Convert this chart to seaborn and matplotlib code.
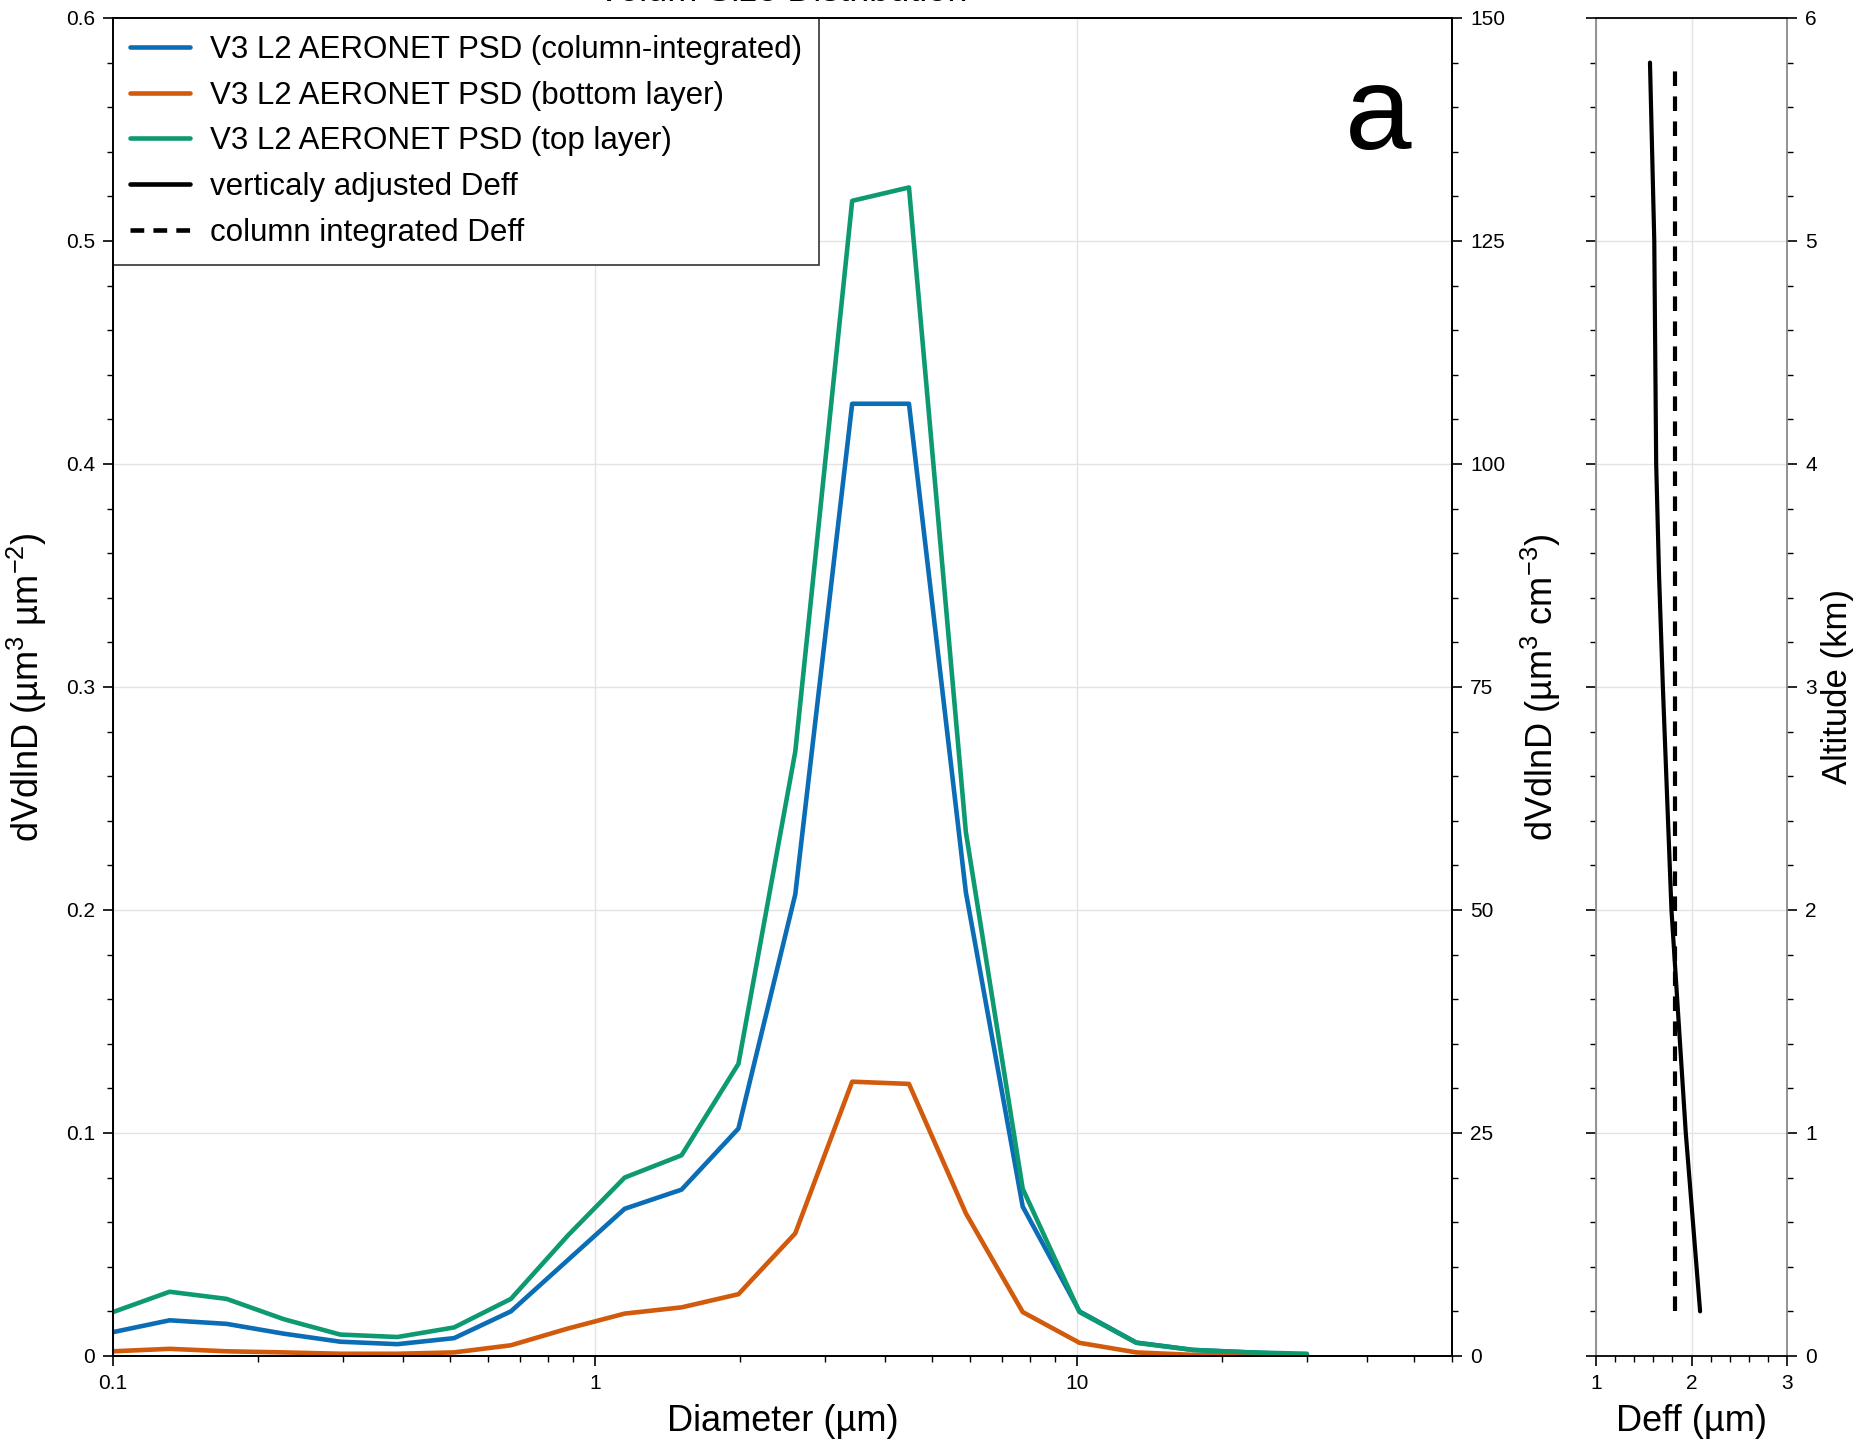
import numpy as np
import pandas as pd
import matplotlib
matplotlib.use("Agg")
import matplotlib.pyplot as plt
from matplotlib.ticker import FixedLocator, MultipleLocator, LogLocator, NullFormatter, FuncFormatter
from matplotlib.lines import Line2D
import seaborn as sns

# ---------------- data ----------------
diameter = [0.1, 0.131, 0.172, 0.226, 0.296, 0.389, 0.510, 0.669, 0.878, 1.152, 1.512,
            1.984, 2.603, 3.416, 4.481, 5.880, 7.715, 10.12, 13.28, 17.43, 22.86, 30.0]
psd_column = [0.0107, 0.016, 0.0144, 0.010, 0.0064, 0.0053, 0.008, 0.020, 0.043, 0.066, 0.0746,
              0.102, 0.207, 0.427, 0.427, 0.208, 0.067, 0.020, 0.006, 0.0027, 0.0016, 0.0005]
psd_bottom = [0.0021, 0.0032, 0.0021, 0.0016, 0.001, 0.001, 0.0016, 0.0048, 0.0123, 0.019, 0.0218,
              0.0277, 0.055, 0.123, 0.122, 0.064, 0.0197, 0.0059, 0.0016, 0.0005, 0.0002, 0.0001]
psd_top = [0.0197, 0.0288, 0.0256, 0.0165, 0.0096, 0.0085, 0.0128, 0.0256, 0.054, 0.080, 0.090,
           0.131, 0.271, 0.518, 0.524, 0.235, 0.075, 0.0197, 0.0059, 0.0027, 0.0016, 0.001]

altitude = [0.2, 1.0, 2.0, 3.0, 3.5, 4.0, 5.0, 5.8]
deff_adjusted = [2.09, 1.94, 1.79, 1.70, 1.66, 1.63, 1.61, 1.565]
alt_column = [0.2, 5.8]
deff_column = [1.83, 1.83]

labels = ["V3 L2 AERONET PSD (column-integrated)", "V3 L2 AERONET PSD (bottom layer)",
          "V3 L2 AERONET PSD (top layer)", "verticaly adjusted Deff", "column integrated Deff"]
colors = ["#0a6db5", "#d15a0c", "#0e9a70"]

# ---------------- style ----------------
sns.set_theme(style="ticks")
plt.rcParams['font.family'] = ['Liberation Sans', 'DejaVu Sans']
plt.rcParams['mathtext.fontset'] = 'custom'
plt.rcParams['mathtext.rm'] = 'Liberation Sans'
plt.rcParams['mathtext.it'] = 'Liberation Sans:italic'
plt.rcParams['axes.linewidth'] = 1.3
for k in ['text.color', 'axes.labelcolor', 'xtick.color', 'ytick.color', 'axes.edgecolor']:
    plt.rcParams[k] = 'black'

fig = plt.figure(figsize=(18.63, 14.49), dpi=100)
ax = fig.add_axes([0.0607, 0.0642, 0.7187, 0.9234])
axr = fig.add_axes([0.8567, 0.0642, 0.1025, 0.9234])

df = pd.DataFrame({"D": diameter, "col": psd_column, "bot": psd_bottom, "top": psd_top})
for key, c, lab in zip(["col", "bot", "top"], colors, labels[:3]):
    sns.lineplot(data=df, x="D", y=key, ax=ax, color=c, lw=3.3, label=lab, legend=False, zorder=3)

ax.set_xscale("log")
ax.set_xlim(0.1, 60)
ax.set_ylim(0, 0.6)
ax.xaxis.set_major_locator(FixedLocator([0.1, 1, 10]))
ax.xaxis.set_major_formatter(FuncFormatter(lambda v, p: {0.1: "0.1", 1: "1", 10: "10"}.get(round(v, 3), "")))
ax.xaxis.set_minor_locator(LogLocator(base=10, subs=np.arange(2, 10)))
ax.xaxis.set_minor_formatter(NullFormatter())
ax.yaxis.set_major_locator(MultipleLocator(0.1))
ax.yaxis.set_minor_locator(MultipleLocator(0.02))
ax.yaxis.set_major_formatter(FuncFormatter(lambda v, p: "0" if abs(v) < 1e-9 else f"{v:.1f}"))
ax.grid(True, which="major", color="#e3e3e3", lw=1.0, zorder=0)
ax.tick_params(which="major", length=7, width=1.2, labelsize=15, pad=6)
ax.tick_params(which="minor", length=4, width=1.0)
ax.set_xlabel("Diameter (µm)", fontsize=26, labelpad=8)
ax.set_ylabel(r"dVdlnD (µm$^3$ µm$^{-2}$)", fontsize=26, labelpad=12)
ax.set_title("Volum Size Distribution", fontsize=26, pad=12)

ax2 = ax.twinx()
ax2.set_ylim(0, 150)
ax2.yaxis.set_major_locator(MultipleLocator(25))
ax2.yaxis.set_minor_locator(MultipleLocator(5))
ax2.tick_params(which="major", length=7, width=1.2, labelsize=15, pad=6)
ax2.tick_params(which="minor", length=4, width=1.0)
ax2.set_ylabel(r"dVdlnD (µm$^3$ cm$^{-3}$)", fontsize=26, labelpad=10)

ax.text(0.945, 0.902, "a", transform=ax.transAxes, fontsize=86, ha="center", va="baseline")

# ---------------- right panel ----------------
dfd = pd.DataFrame({"alt": altitude, "deff": deff_adjusted})
dfc = pd.DataFrame({"alt": alt_column, "deff": deff_column})
sns.lineplot(data=dfd, x="deff", y="alt", ax=axr, sort=False, estimator=None, color="black", lw=3.0)
sns.lineplot(data=dfc, x="deff", y="alt", ax=axr, sort=False, estimator=None, color="black", lw=3.0,
             linestyle=(0, (3.5, 2.5)))
axr.set_xlim(1, 3)
axr.set_ylim(0, 6)
axr.xaxis.set_major_locator(MultipleLocator(1))
axr.xaxis.set_minor_locator(MultipleLocator(0.2))
axr.yaxis.set_major_locator(MultipleLocator(1))
axr.yaxis.set_minor_locator(MultipleLocator(0.2))
axr.grid(True, which="major", color="#e3e3e3", lw=1.0, zorder=0)
axr.yaxis.tick_right()
axr.tick_params(axis="y", which="both", left=True, right=True, labelleft=False, labelright=True)
axr.tick_params(which="major", length=7, width=1.2, labelsize=15, pad=6)
axr.tick_params(which="minor", length=4, width=1.0)
axr.yaxis.set_label_position("right")
axr.set_ylabel("Altitude (km)", fontsize=25, labelpad=3)
axr.set_xlabel("Deff (µm)", fontsize=26, labelpad=8)
axr.spines["left"].set_color("#8a8a8a")
axr.spines["right"].set_color("#8a8a8a")

# ---------------- legend ----------------
handles = [Line2D([], [], color=c, lw=3.3) for c in colors]
handles += [Line2D([], [], color="black", lw=3.3),
            Line2D([], [], color="black", lw=3.3, linestyle=(0, (3, 2)))]
leg = ax.legend(handles, labels, loc="upper left", fontsize=22.5, frameon=True, fancybox=False,
                edgecolor="#333333", framealpha=1, borderaxespad=0, handlelength=1.9,
                labelspacing=0.5, borderpad=0.55, handletextpad=0.65)
leg.get_frame().set_linewidth(1.2)
leg.set_zorder(10)

fig.savefig("out.png", dpi=100)
